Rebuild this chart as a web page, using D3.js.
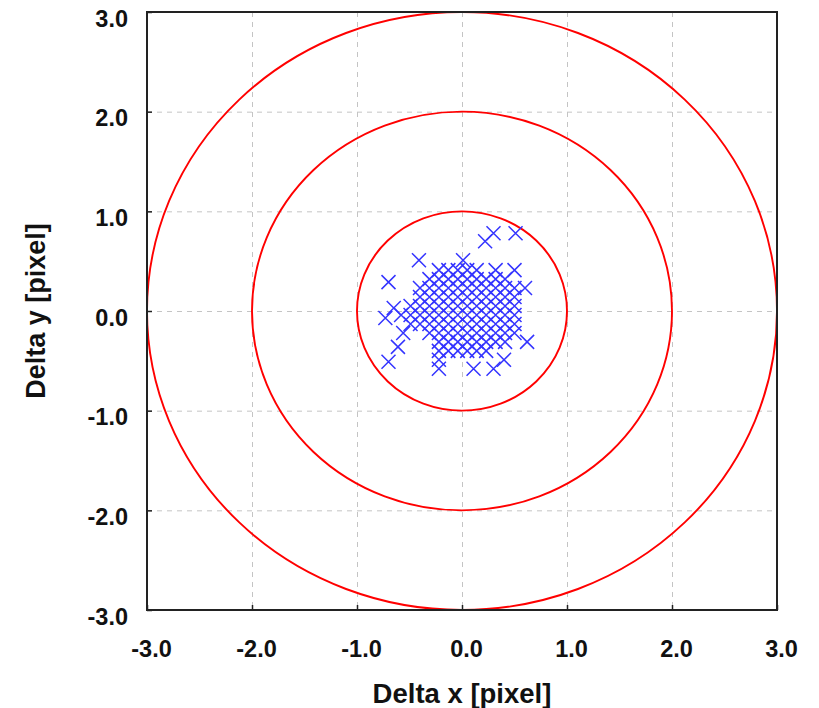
<!DOCTYPE html>
<html>
<head>
<meta charset="utf-8">
<script src="https://cdn.jsdelivr.net/npm/d3@7"></script>
<style>
  html, body { margin: 0; padding: 0; background: #fff; }
  svg { display: block; }
  text { font-family: "Liberation Sans", Arial, sans-serif; font-weight: bold; fill: #111; }
</style>
</head>
<body>
<svg id="chart" width="819" height="708"></svg>
<script>
// ---- data ----
const tickValues = [-3, -2, -1, 0, 1, 2, 3];
const gridValues = [-2, -1, 0, 1, 2];
const ringRadii = [1, 2, 3];
const xTitle = "Delta x [pixel]";
const yTitle = "Delta y [pixel]";

// dense cluster, stored row by row (y of row, x values in that row)
const rowY = [0.41, 0.32, 0.23, 0.14, 0.05, -0.04, -0.13, -0.22, -0.31, -0.40, -0.49, -0.58];
const rowX = [
  [-0.22, -0.13, -0.04, 0.05, 0.14, 0.32, 0.50],
  [-0.31, -0.22, -0.13, -0.04, 0.05, 0.14, 0.23, 0.32, 0.41],
  [-0.40, -0.31, -0.22, -0.13, -0.04, 0.05, 0.14, 0.23, 0.32, 0.41, 0.50, 0.60],
  [-0.40, -0.31, -0.22, -0.13, -0.04, 0.05, 0.14, 0.23, 0.32, 0.41, 0.50],
  [-0.49, -0.40, -0.31, -0.22, -0.13, -0.04, 0.05, 0.14, 0.23, 0.32, 0.41, 0.50],
  [-0.58, -0.49, -0.40, -0.31, -0.22, -0.13, -0.04, 0.05, 0.14, 0.23, 0.32, 0.41, 0.50],
  [-0.49, -0.40, -0.31, -0.22, -0.13, -0.04, 0.05, 0.14, 0.23, 0.32, 0.41, 0.50],
  [-0.31, -0.22, -0.13, -0.04, 0.05, 0.14, 0.23, 0.32, 0.41, 0.50],
  [-0.22, -0.13, -0.04, 0.05, 0.14, 0.23, 0.32, 0.41, 0.62],
  [-0.22, -0.13, -0.04, 0.05, 0.14, 0.23],
  [-0.22, 0.40],
  [-0.22, 0.11, 0.30]
];
// scattered outliers
const outX = [-0.70, -0.41, 0.01, 0.22, 0.30, 0.51, -0.65, -0.73, -0.56, -0.61, -0.70];
const outY = [0.29, 0.51, 0.51, 0.70, 0.78, 0.78, 0.03, -0.07, -0.22, -0.36, -0.51];

// ---- build ----
const points = [];
rowY.forEach((yv, i) => rowX[i].forEach(xv => points.push([xv, yv])));
outX.forEach((xv, i) => points.push([xv, outY[i]]));

const svg = d3.select("#chart");
const L = 147, R = 777, T = 12, B = 610;
const x = d3.scaleLinear().domain([-3, 3]).range([L, R]);
const y = d3.scaleLinear().domain([-3, 3]).range([B, T]);

svg.append("rect").attr("width", 819).attr("height", 708).attr("fill", "#fff");

// grid
const grid = svg.append("g").attr("stroke", "#c4c4c4").attr("stroke-width", 1).attr("stroke-dasharray", "5,5");
grid.selectAll("line.v").data(gridValues).join("line")
  .attr("x1", d => x(d) + 0.5).attr("x2", d => x(d) + 0.5).attr("y1", T).attr("y2", B);
grid.selectAll("line.h").data(gridValues).join("line")
  .attr("y1", d => y(d) + 0.5).attr("y2", d => y(d) + 0.5).attr("x1", L).attr("x2", R);

// rings
svg.append("g").selectAll("ellipse").data(ringRadii).join("ellipse")
  .attr("cx", x(0)).attr("cy", y(0))
  .attr("rx", d => x(d) - x(0)).attr("ry", d => y(0) - y(d))
  .attr("fill", "none").attr("stroke", "#ff0000").attr("stroke-width", 1.9);

// crosses
const s = 7;
svg.append("g").selectAll("path").data(points).join("path")
  .attr("transform", d => `translate(${x(d[0])},${y(d[1])})`)
  .attr("d", `M${-s},${-s}L${s},${s}M${-s},${s}L${s},${-s}`)
  .attr("stroke", "#3434ff").attr("stroke-width", 1.5).attr("fill", "none");

// axes
const fmt = d => d3.format(".1f")(d).replace("\u2212", "-");
const xAxis = svg.append("g").attr("transform", `translate(0,${B})`)
  .call(d3.axisBottom(x).tickValues(tickValues).tickFormat(fmt).tickSize(-5).tickPadding(30));
const yAxis = svg.append("g").attr("transform", `translate(${L},0)`)
  .call(d3.axisLeft(y).tickValues(tickValues).tickFormat(fmt).tickSize(-5).tickPadding(19));
[xAxis, yAxis].forEach(g => {
  g.select(".domain").remove();
  g.selectAll(".tick line").attr("stroke", "#222").attr("stroke-width", 1.5);
  g.selectAll("text").attr("font-size", 23.5).attr("font-family", "Liberation Sans, Arial, sans-serif")
    .attr("font-weight", "bold").attr("fill", "#111");
});
xAxis.selectAll("text").attr("dx", 4);
yAxis.selectAll("text").attr("dy", "0.6em");

// frame
svg.append("rect").attr("x", L).attr("y", T).attr("width", R - L).attr("height", B - T)
  .attr("fill", "none").attr("stroke", "#222").attr("stroke-width", 2);

// titles
svg.append("text").attr("x", (L + R) / 2).attr("y", 703).attr("text-anchor", "middle")
  .attr("font-size", 27.5).text(xTitle);
svg.append("text").attr("transform", `translate(45,${(T + B) / 2}) rotate(-90)`)
  .attr("text-anchor", "middle").attr("font-size", 27).text(yTitle);
</script>
</body>
</html>
